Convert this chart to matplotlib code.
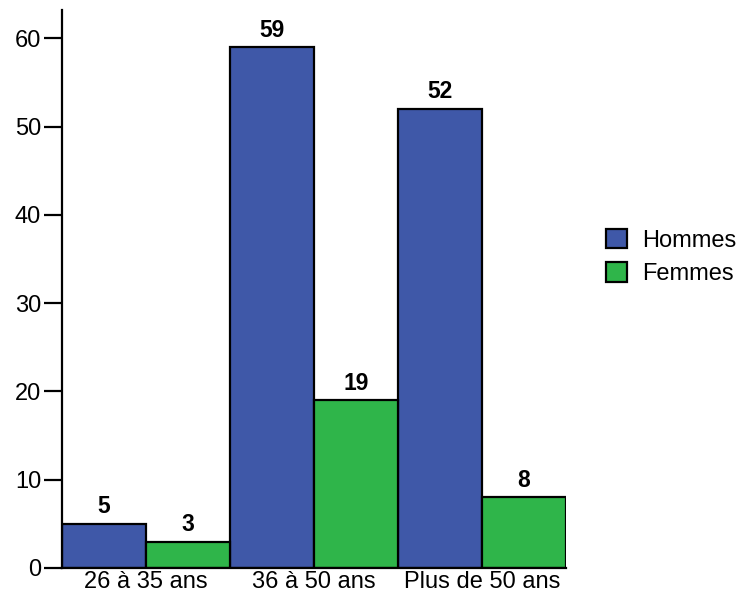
import matplotlib
matplotlib.use("Agg")
import matplotlib.pyplot as plt
import numpy as np

categories = ["26 à 35 ans", "36 à 50 ans", "Plus de 50 ans"]
hommes = [5, 59, 52]
femmes = [3, 19, 8]
series_names = ["Hommes", "Femmes"]

BLUE = "#3F58A8"
GREEN = "#2FB54A"
FS = 17

plt.rcParams["font.family"] = ["Liberation Sans", "DejaVu Sans"]

fig = plt.figure(figsize=(7.38, 5.96), dpi=100)
ax = fig.add_axes([62 / 738, 1 - 568 / 596, (566 - 62) / 738, (568 - 10) / 596])

x = np.arange(len(categories))
w = 0.5
b1 = ax.bar(x - w / 2, hommes, w, color=BLUE, edgecolor="black", linewidth=1.6,
            label=series_names[0])
b2 = ax.bar(x + w / 2, femmes, w, color=GREEN, edgecolor="black", linewidth=1.6,
            label=series_names[1])

for bars in (b1, b2):
    ax.bar_label(bars, padding=4, fontsize=FS - 0.5, fontweight="bold")

ax.set_xlim(-0.5, len(categories) - 0.5)
ax.set_ylim(0, 63.2)
ax.set_yticks([0, 10, 20, 30, 40, 50, 60])
ax.set_xticks(x)
ax.set_xticklabels(categories)

for s in ("top", "right"):
    ax.spines[s].set_visible(False)
for s in ("left", "bottom"):
    ax.spines[s].set_linewidth(1.6)
ax.tick_params(axis="y", length=13, width=1.6, labelsize=FS, pad=2)
ax.tick_params(axis="x", length=0, labelsize=FS, pad=2)

fig.legend(handles=[b1, b2], loc="center left", bbox_to_anchor=(606 / 738, 1 - 257 / 596),
           frameon=False, fontsize=FS, borderpad=0, borderaxespad=0,
           handlelength=0.9, handleheight=0.9, handletextpad=0.65, labelspacing=0.45)

fig.savefig("out.png", dpi=100)
